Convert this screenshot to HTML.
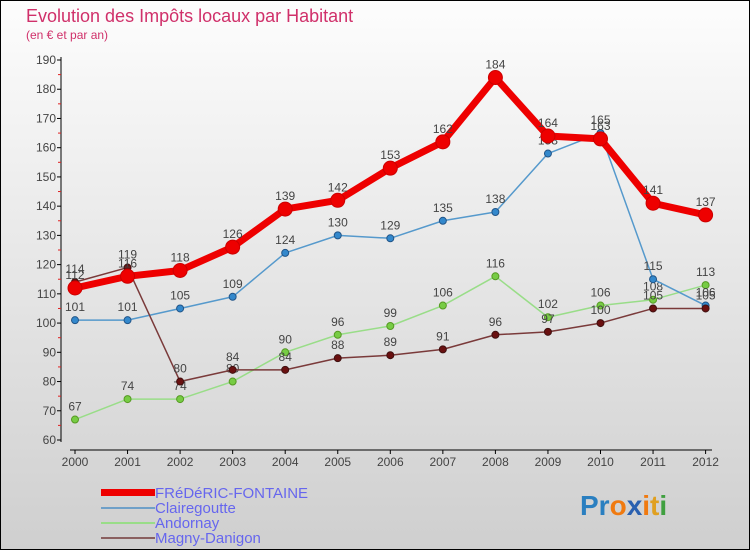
<!DOCTYPE html>
<html><head><meta charset="utf-8"><style>
body{margin:0;width:750px;height:550px;overflow:hidden;font-family:"Liberation Sans",sans-serif}
</style></head><body>
<svg width="750" height="550" xmlns="http://www.w3.org/2000/svg" style="font-family:'Liberation Sans',sans-serif">
<defs><linearGradient id="bg" x1="0" y1="0" x2="0" y2="1"><stop offset="0" stop-color="#fdfdfd"/><stop offset="1" stop-color="#cfcfcf"/></linearGradient></defs>
<rect x="0.5" y="0.5" width="749" height="549" fill="url(#bg)" stroke="#000"/>
<text x="26" y="22" font-size="18" fill="#d0306a">Evolution des Impôts locaux par Habitant</text>
<text x="26" y="39" font-size="12" fill="#d0306a">(en € et par an)</text>
<g id="axes"></g>
<g id="series"></g>
<g>
<rect x="101" y="489" width="54" height="7" fill="#ee0000"/>
<text x="155" y="498" font-size="15" fill="#6666ee">FRéDéRIC-FONTAINE</text>
<rect x="101" y="507" width="54" height="2" fill="#6fa0c8"/>
<text x="155" y="513" font-size="15" fill="#6666ee">Clairegoutte</text>
<rect x="101" y="522" width="54" height="2" fill="#99dd88"/>
<text x="155" y="528" font-size="15" fill="#6666ee">Andornay</text>
<rect x="101" y="537" width="54" height="2" fill="#8a6060"/>
<text x="155" y="543" font-size="15" fill="#6666ee">Magny-Danigon</text>
</g>
<g font-size="28" font-weight="bold">
<text x="580" y="515"><tspan fill="#2a7fc0">Pr</tspan><tspan fill="#f07a10">o</tspan><tspan fill="#2a60b0">x</tspan><tspan fill="#f07a10">i</tspan><tspan fill="#e0a020">t</tspan><tspan fill="#40a040">i</tspan></text>
</g>
</svg>
<script>
const years=[2000,2001,2002,2003,2004,2005,2006,2007,2008,2009,2010,2011,2012];
const yTicks=[60,70,80,90,100,110,120,130,140,150,160,170,180,190];
const fontaine=[112,116,118,126,139,142,153,162,184,164,163,141,137];
const clairegoutte=[101,101,105,109,124,130,129,135,138,158,165,115,106];
const andornay=[67,74,74,80,90,96,99,106,116,102,106,108,113];
const magny=[114,119,80,84,84,88,89,91,96,97,100,105,105];
const NS="http://www.w3.org/2000/svg";
function xs(i){return 75+i*52.55;}
function ys(v){return 440-(v-60)*(380/130);}
function mk(tag,attrs,parent){const e=document.createElementNS(NS,tag);for(const k in attrs)e.setAttribute(k,attrs[k]);parent.appendChild(e);return e;}
const ax=document.getElementById('axes');
let l=mk('line',{x1:61,y1:57,x2:61,y2:442,stroke:'#000','stroke-width':1},ax);


l=mk('line',{x1:70,y1:450,x2:712,y2:450,stroke:'#000','stroke-width':1},ax);


yTicks.forEach((v,i)=>{
  mk('line',{x1:57,y1:ys(v),x2:61,y2:ys(v),stroke:'#000'},ax);
  if(i<yTicks.length-1)mk('line',{x1:58,y1:ys(v+5),x2:61,y2:ys(v+5),stroke:'#e02020'},ax);
  const t=mk('text',{x:56,y:ys(v)+4,'font-size':12,'text-anchor':'end',fill:'#444'},ax);
  t.textContent=v;
  
  
});
years.forEach((y,i)=>{
  mk('line',{x1:xs(i),y1:450,x2:xs(i),y2:454,stroke:'#000'},ax);
  const t=mk('text',{x:xs(i),y:466,'font-size':12,'text-anchor':'middle',fill:'#444'},ax);
  t.textContent=y;
  
  
});
const sg=document.getElementById('series');
function draw(data,name,color,w,r,dot,dotStroke){
  const g=mk('g',{},sg);
  
  
  const p=mk('polyline',{points:data.map((v,i)=>xs(i)+','+ys(v)).join(' '),fill:'none',stroke:color,'stroke-width':w,'stroke-linejoin':'round'},g);
  
  
  data.forEach((v,i)=>{
    const c=mk('circle',{cx:xs(i),cy:ys(v),r:r,fill:dot,stroke:dotStroke,'stroke-width':1},g);
    
    
    const t=mk('text',{x:xs(i),y:ys(v)-9,'font-size':12,'text-anchor':'middle',fill:'#444'},g);
    t.textContent=v;
    
    
  });
}
draw(andornay,'andornay','#99dd88',1.5,3.5,'#77cc44','#559922');
draw(clairegoutte,'clairegoutte','#5599cc',1.5,3.5,'#3388cc','#225588');
draw(magny,'magny-danigon','#7a3a3a',1.5,3.5,'#6a1010','#401010');
draw(fontaine,'fontaine','#ee0000',7,7,'#ee0000','#cc0000');
</script>
</body></html>
